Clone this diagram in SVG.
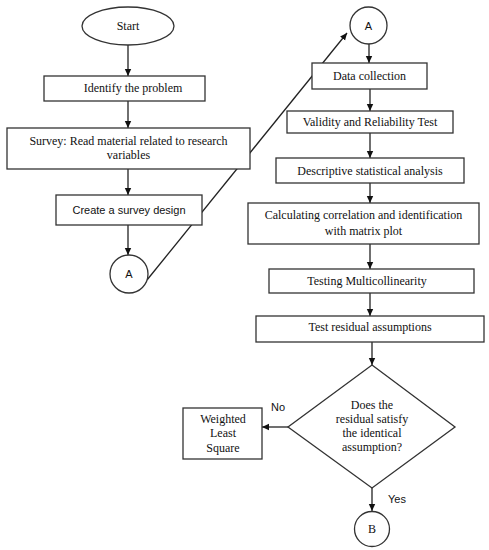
<svg xmlns="http://www.w3.org/2000/svg" width="489" height="550" viewBox="0 0 489 550">
<style>
.box{fill:#fff;stroke:#333;stroke-width:1.3}
.t{font-family:"Liberation Serif","Times New Roman",serif;font-size:12px;fill:#111;text-anchor:middle}
.s{font-family:"Liberation Sans",Arial,sans-serif;font-size:11px;fill:#111;text-anchor:middle}
.c{stroke:#222;stroke-width:1.3;fill:none;marker-end:url(#ah)}
</style>
<defs>
<marker id="ah" markerWidth="8" markerHeight="8" refX="7" refY="4" orient="auto" markerUnits="userSpaceOnUse">
<path d="M0,0.8 L7,4 L0,7.2 Z" fill="#111"/>
</marker>
</defs>
<rect width="489" height="550" fill="#fff"/>
<g id="connectors">
<line class="c" x1="128" y1="45" x2="128" y2="76"/>
<line class="c" x1="128" y1="101" x2="128" y2="128"/>
<line class="c" x1="128" y1="169" x2="128" y2="195"/>
<line class="c" x1="128" y1="225" x2="128" y2="255"/>
<line class="c" x1="147" y1="280" x2="347" y2="33"/>
<line class="c" x1="369" y1="44" x2="369" y2="63"/>
<line class="c" x1="370" y1="89" x2="370" y2="111"/>
<line class="c" x1="370" y1="133" x2="370" y2="158"/>
<line class="c" x1="370" y1="183" x2="370" y2="203"/>
<line class="c" x1="370" y1="244" x2="370" y2="269"/>
<line class="c" x1="370" y1="293" x2="370" y2="316"/>
<line class="c" x1="372" y1="342" x2="372" y2="365"/>
<line class="c" x1="288" y1="427" x2="262" y2="427"/>
<line class="c" x1="372" y1="488" x2="372" y2="511"/>
<text class="s" x="278" y="411">No</text>
<text class="s" x="397" y="503">Yes</text>
</g>
<g id="start"><ellipse class="box" cx="128" cy="26" rx="46" ry="19"/><text class="t" x="128" y="30">Start</text></g>
<g id="identify"><rect class="box" x="44" y="76" width="161" height="25"/><text class="t" x="133" y="92">Identify the problem</text></g>
<g id="survey"><rect class="box" x="7" y="128" width="243" height="41"/><text class="t" x="128.5" y="145">Survey: Read material related to research</text><text class="t" x="128.5" y="159">variables</text></g>
<g id="design"><rect class="box" x="56" y="195" width="146" height="30"/><text class="s" x="129" y="214">Create a survey design</text></g>
<g id="a1"><circle class="box" cx="129" cy="274" r="19"/><text class="s" x="129" y="278">A</text></g>
<g id="a2"><circle class="box" cx="368.5" cy="25.5" r="18.5"/><text class="s" x="368.5" y="29.5">A</text></g>
<g id="data"><rect class="box" x="312" y="63" width="115" height="26"/><text class="t" x="369.5" y="80">Data collection</text></g>
<g id="validity"><rect class="box" x="287" y="111" width="166" height="22"/><text class="t" x="370" y="126">Validity and Reliability Test</text></g>
<g id="descriptive"><rect class="box" x="276" y="158" width="188" height="25"/><text class="t" x="370" y="175">Descriptive statistical analysis</text></g>
<g id="correlation"><rect class="box" x="248" y="203" width="231" height="41"/><text class="t" x="363.5" y="219">Calculating correlation and identification</text><text class="t" x="363.5" y="235">with matrix plot</text></g>
<g id="multicol"><rect class="box" x="269" y="269" width="205" height="24"/><text class="t" x="367" y="285">Testing Multicollinearity</text></g>
<g id="residual"><rect class="box" x="256" y="316" width="228" height="26"/><text class="t" x="370" y="331">Test residual assumptions</text></g>
<g id="decision"><polygon class="box" points="372,365 455,427 372,488 288,427"/><text class="t" x="372" y="409">Does the</text><text class="t" x="372" y="423">residual satisfy</text><text class="t" x="372" y="437">the identical</text><text class="t" x="372" y="451">assumption?</text></g>
<g id="wls"><rect class="box" x="183" y="408" width="79" height="51"/><text class="t" x="223" y="423">Weighted</text><text class="t" x="223" y="437">Least</text><text class="t" x="223" y="452">Square</text></g>
<g id="b"><circle class="box" cx="372" cy="529" r="17.5"/><text class="t" x="372" y="533">B</text></g>
</svg>
